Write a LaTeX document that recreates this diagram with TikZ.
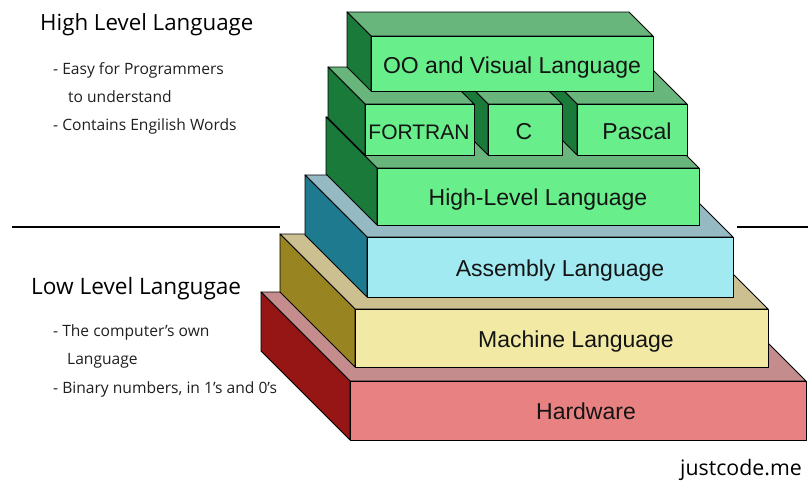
\documentclass[tikz,border=0pt]{standalone}
\usepackage{fontspec}
\setmainfont{Open Sans}
\newfontfamily\boxfont{Liberation Sans}

\definecolor{hwfront}{RGB}{232,130,130}
\definecolor{hwtop}{RGB}{196,140,140}
\definecolor{hwside}{RGB}{150,22,22}
\definecolor{machfront}{RGB}{242,234,164}
\definecolor{machtop}{RGB}{204,192,144}
\definecolor{machside}{RGB}{152,132,32}
\definecolor{asmfront}{RGB}{162,234,242}
\definecolor{asmtop}{RGB}{150,186,196}
\definecolor{asmside}{RGB}{30,122,142}
\definecolor{hlfront}{RGB}{104,238,138}
\definecolor{hltop}{RGB}{104,182,124}
\definecolor{hlside}{RGB}{26,122,58}

\tikzset{
  face/.style={draw=black, line width=0.9pt, line join=round},
  divider/.style={draw=black, line width=1.2pt},
  boxlabel/.style={anchor=base, inner sep=0pt, text=black!92,
    font=\boxfont\fontsize{23}{23}\selectfont},
  heading/.style={anchor=base west, inner sep=0pt, text=black,
    font=\fontsize{22.3}{22.3}\selectfont},
  note/.style={anchor=base west, inner sep=0pt, text=black!88,
    font=\fontsize{15.6}{15.6}\selectfont},
}

% one slab of the stack: x1 y1 x2 y2 (front face), depth, colour prefix
\newcommand{\slab}[6]{%
  \filldraw[face, fill=#6top] (#1,#2) -- (#3,#2) -- ++(-#5,-#5) -- ({#1-#5},{#2-#5}) -- cycle;
  \filldraw[face, fill=#6side] (#1,#2) -- ++(-#5,-#5) -- ({#1-#5},{#4-#5}) -- (#1,#4) -- cycle;
  \filldraw[face, fill=#6front] (#1,#2) rectangle (#3,#4);
}

\begin{document}
\begin{tikzpicture}[x=1pt, y=-1pt]
  \useasboundingbox (0,0) rectangle (808,482);
  % Divide high from low
  \coordinate (divl1) at (12,227);
  \coordinate (divl2) at (280,227);
  \coordinate (divr1) at (737,227);
  \coordinate (divr2) at (808,227);
  \draw[divider] (divl1) -- (divl2);
  \draw[divider] (divr1) -- (divr2);
  % Stack, bottom to top
  \slab{350}{381}{806}{440}{89}{hw}
  \slab{355}{309}{768}{367}{75}{mach}
  \slab{367}{237}{733}{297}{62}{asm}
  \slab{377}{168}{699}{225}{51}{hl}
  \slab{577}{104}{687}{155}{37}{hl}
  \slab{488}{104}{562}{155}{37}{hl}
  \slab{365}{104}{474}{155}{37}{hl}
  \slab{371}{36}{653}{91}{24}{hl}
  % Define nodes
  \node[boxlabel] (oo)      at (512,73)  {OO and Visual Language};
  \node[boxlabel, font=\boxfont\fontsize{21}{21}\selectfont] (fortran) at (419,139) {FORTRAN};
  \node[boxlabel] (clang)   at (524,139) {C};
  \node[boxlabel] (pascal)  at (637,139) {Pascal};
  \node[boxlabel] (hll)     at (538,205) {High-Level Language};
  \node[boxlabel] (asm)     at (560,276) {Assembly Language};
  \node[boxlabel] (mach)    at (576,347) {Machine Language};
  \node[boxlabel] (hw)      at (586,419) {Hardware};
  % Side notes
  \node[heading] (hihead)     at (40,30)  {High Level Language};
  \node[note]    (easy)       at (53,74)  {- Easy for Programmers};
  \node[note]    (understand) at (68,102) {to understand};
  \node[note]    (english)    at (53,130) {- Contains Engilish Words};
  \node[heading, font=\fontsize{22.6}{22.6}\selectfont] (lohead) at (31,294) {Low Level Langugae};
  \node[note]    (ownl)       at (53,336) {- The computer’s own};
  \node[note]    (langl)      at (67,364) {Language};
  \node[note]    (binary)     at (53,393) {- Binary numbers, in 1’s and 0’s};
  \node[heading, font=\fontsize{21.3}{21.3}\selectfont] (credit) at (680,475) {justcode.me};
\end{tikzpicture}
\end{document}
